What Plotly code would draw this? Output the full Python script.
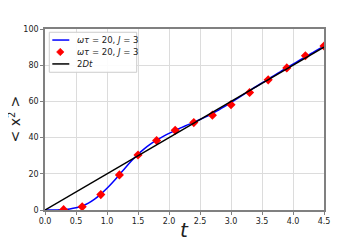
import plotly.graph_objects as go

# Data
t_curve = [0.0, 0.1, 0.2, 0.3, 0.4, 0.5, 0.6, 0.7, 0.8, 0.9, 1.0, 1.1, 1.2, 1.3, 1.4, 1.5,
           1.6, 1.7, 1.8, 1.9, 2.0, 2.1, 2.2, 2.3, 2.4, 2.5, 2.6, 2.7, 2.8, 2.9, 3.0,
           3.1, 3.2, 3.3, 3.4, 3.5, 3.6, 3.7, 3.8, 3.9, 4.0, 4.1, 4.2, 4.3, 4.4, 4.5]
x2_curve = [0.0, 0.0, 0.05, 0.3, 0.6, 1.2, 2.2, 3.8, 6.0, 8.8, 12.0, 15.6, 19.5, 23.5, 27.3, 30.8,
            33.8, 36.4, 38.6, 40.5, 42.3, 44.0, 45.5, 47.0, 48.5, 50.0, 51.6, 53.3, 55.2, 57.2, 59.3,
            61.5, 63.7, 65.9, 68.1, 70.2, 72.3, 74.4, 76.5, 78.6, 80.6, 82.6, 84.6, 86.6, 88.6, 90.5]
t_pts = [0.3, 0.6, 0.9, 1.2, 1.5, 1.8, 2.1, 2.4, 2.7, 3.0, 3.3, 3.6, 3.9, 4.2, 4.5]
x2_pts = [0.2, 1.8, 8.5, 19.4, 30.4, 38.4, 44.0, 48.3, 52.4, 58.2, 64.9, 71.9, 78.5, 85.2, 90.6]
t_line = [0.0, 4.5]
twoD = 20.0
x2_line = [twoD * v for v in t_line]

x_ticks = [0.0, 0.5, 1.0, 1.5, 2.0, 2.5, 3.0, 3.5, 4.0, 4.5]
y_ticks = [0, 20, 40, 60, 80, 100]

legend_names = ["<i>ωτ</i> = 20, <i>J</i> = 3", "<i>ωτ</i> = 20, <i>J</i> = 3", "2<i>Dt</i>"]
legend_colors = ["blue", "red", "black"]
legend_kinds = ["line", "marker", "line"]

fig = go.Figure()
fig.add_trace(go.Scatter(x=t_curve, y=x2_curve, mode="lines", line=dict(color="blue", width=1.5, shape="spline"),
                         name=legend_names[0], showlegend=False))
fig.add_trace(go.Scatter(x=t_pts, y=x2_pts, mode="markers", marker=dict(color="red", symbol="diamond", size=7),
                         name=legend_names[1], showlegend=False))
fig.add_trace(go.Scatter(x=t_line, y=x2_line, mode="lines", line=dict(color="black", width=1.5),
                         name=legend_names[2], showlegend=False))

axis_common = dict(showgrid=True, gridcolor="#dcdcdc", gridwidth=1.2, showline=True, linecolor="#808080",
                   linewidth=1.5, mirror=True, ticks="outside", tickcolor="#808080", ticklen=3,
                   tickfont=dict(family="DejaVu Sans", size=8, color="#222"), zeroline=False,
                   automargin=False)

# Manual legend (paper coordinates)
shapes = [dict(type="rect", xref="paper", yref="paper", x0=0.0154, x1=0.3287, y0=0.761, y1=0.982,
               line=dict(color="#cccccc", width=1), fillcolor="rgba(255,255,255,0.9)", layer="above")]
annotations = []
row_y = [0.939, 0.873, 0.807]
for name, col, kind, yy in zip(legend_names, legend_colors, legend_kinds, row_y):
    if kind == "line":
        shapes.append(dict(type="line", xref="paper", yref="paper", x0=0.0262, x1=0.0871, y0=yy, y1=yy,
                           line=dict(color=col, width=1.5), layer="above"))
    else:
        cx, dx, dy = 0.0548, 0.0135, 0.021
        shapes.append(dict(type="path", xref="paper", yref="paper",
                           path=f"M {cx-dx},{yy} L {cx},{yy+dy} L {cx+dx},{yy} L {cx},{yy-dy} Z",
                           fillcolor=col, line=dict(color=col, width=0.5), layer="above"))
    annotations.append(dict(text=name, x=0.108, y=yy, xref="paper", yref="paper", xanchor="left",
                            yanchor="middle", showarrow=False,
                            font=dict(family="DejaVu Sans", size=8.5, color="#222")))

annotations += [
    dict(text="<i>t</i>", x=0.5, y=-0.11, xref="paper", yref="paper", xanchor="center", yanchor="middle",
         showarrow=False, font=dict(family="DejaVu Sans", size=20, color="#222")),
    dict(text="< x<sup>2</sup> >", x=-0.111, y=0.5, xref="paper", yref="paper", xanchor="center", yanchor="middle",
         textangle=-90, showarrow=False, font=dict(family="DejaVu Sans", size=14, color="#222")),
]

fig.update_layout(
    width=360, height=240,
    margin=dict(l=37, r=44, t=21, b=38),
    plot_bgcolor="white", paper_bgcolor="white",
    showlegend=False,
    xaxis=dict(range=[0, 4.5], tickvals=x_ticks, ticktext=[f"{v:.1f}" for v in x_ticks], **axis_common),
    yaxis=dict(range=[0, 100], tickvals=y_ticks, **axis_common),
    shapes=shapes,
    annotations=annotations,
)

fig.write_html("out.html")
